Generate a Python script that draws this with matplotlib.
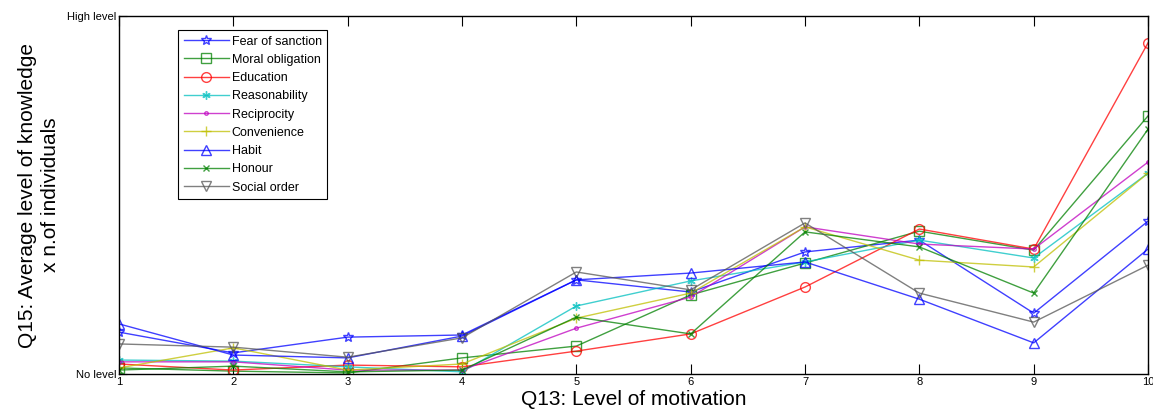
import matplotlib
matplotlib.use('Agg')
import matplotlib.pyplot as plt

plt.rcParams['font.family'] = ['Liberation Sans', 'DejaVu Sans']

# Q13 levels
levels = [1, 2, 3, 4, 5, 6, 7, 8, 9, 10]

# Q15 avg knowledge x n. of individuals, scaled 0 (No level) .. 1 (High level)
fear = [0.117, 0.059, 0.103, 0.109, 0.263, 0.229, 0.341, 0.374, 0.170, 0.427]
moral = [0.017, 0.008, 0.003, 0.045, 0.078, 0.221, 0.310, 0.399, 0.346, 0.721]
education = [0.028, 0.011, 0.025, 0.020, 0.064, 0.112, 0.243, 0.405, 0.349, 0.925]
reasonability = [0.039, 0.036, 0.020, 0.006, 0.190, 0.260, 0.313, 0.374, 0.324, 0.561]
reciprocity = [0.034, 0.034, 0.011, 0.011, 0.128, 0.215, 0.411, 0.363, 0.349, 0.592]
convenience = [0.017, 0.073, 0.011, 0.028, 0.156, 0.226, 0.411, 0.318, 0.299, 0.561]
habit = [0.140, 0.053, 0.045, 0.106, 0.263, 0.282, 0.313, 0.209, 0.087, 0.349]
honour = [0.011, 0.022, 0.006, 0.011, 0.159, 0.112, 0.397, 0.355, 0.226, 0.684]
social = [0.084, 0.075, 0.047, 0.101, 0.285, 0.235, 0.422, 0.226, 0.145, 0.304]

names = ['Fear of sanction', 'Moral obligation', 'Education', 'Reasonability',
         'Reciprocity', 'Convenience', 'Habit', 'Honour', 'Social order']
series = [fear, moral, education, reasonability, reciprocity, convenience,
          habit, honour, social]

colors = ['#0000ff', '#008000', '#ff0000', '#00bfbf', '#bf00bf', '#bfbf00',
          '#0000ff', '#008000', '#555555']
markers = ['*', 's', 'o', (6, 2, 0), '.', '+', '^', 'x', 'v']
msizes = [7, 7, 7, 6, 5, 7, 7, 4, 7]

fig = plt.figure(figsize=(11.53, 4.2), dpi=100)
ax = fig.add_axes([0.1032, 0.1095, 0.8925, 0.8524])

for ys, name, c, m, ms in zip(series, names, colors, markers, msizes):
    ax.plot(levels, ys, color=c, marker=m, markersize=ms, markerfacecolor='none',
            markeredgecolor=c, markeredgewidth=1, linewidth=1, alpha=0.75, label=name)

ax.set_xlim(1, 10)
ax.set_ylim(0, 1)
ax.set_xticks(levels)
ax.set_xticklabels([str(v) for v in levels], fontsize=8)
ax.set_yticks([0, 1])
ax.set_yticklabels(['No level', 'High level'], fontsize=8)
ax.tick_params(direction='in', length=7, top=True, right=False, pad=2)
ax.tick_params(axis='y', length=6)
for s in ax.spines.values():
    s.set_linewidth(1)

ax.set_xlabel('Q13: Level of motivation', fontsize=15, labelpad=2)
ax.set_ylabel('Q15: Average level of knowledge\nx n.of individuals', fontsize=15,
              labelpad=5, linespacing=1.25)

leg = ax.legend(loc='upper left', bbox_to_anchor=(0.0573, 0.961), fontsize=9,
                frameon=True, fancybox=False, edgecolor='black', framealpha=1,
                borderaxespad=0, handlelength=3.6, borderpad=0.45,
                labelspacing=0.5, handletextpad=0.25)
leg.get_frame().set_linewidth(0.8)

fig.savefig('out.png', dpi=100)
